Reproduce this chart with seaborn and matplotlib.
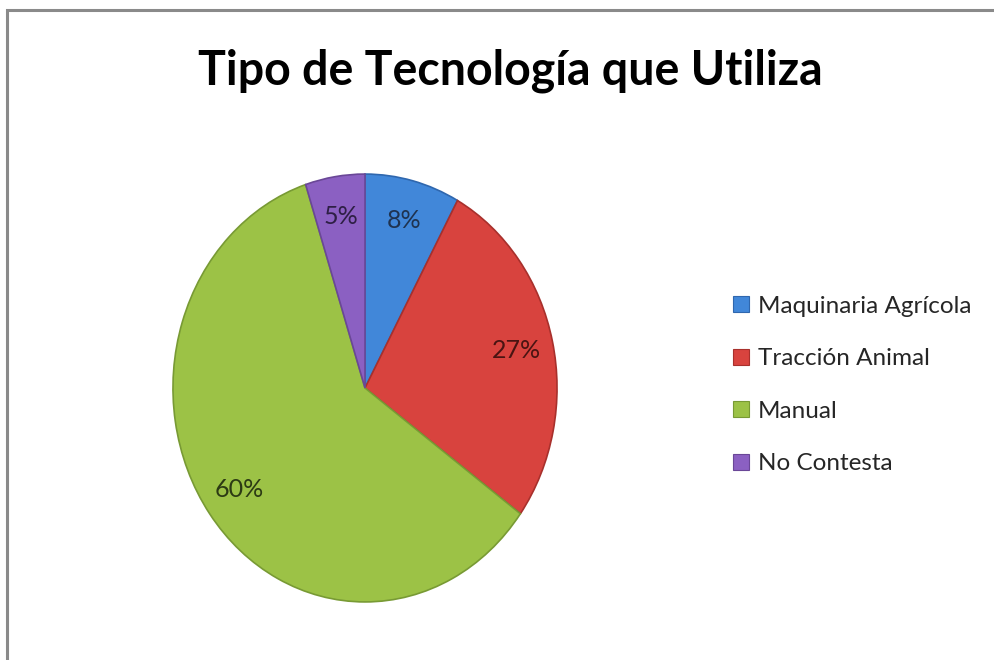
import matplotlib
matplotlib.use("Agg")
import matplotlib.pyplot as plt
import seaborn as sns
from matplotlib.patches import Rectangle

categories = ["Maquinaria Agrícola", "Tracción Animal", "Manual", "No Contesta"]
values = [8, 27, 60, 5]
title = "Tipo de Tecnología que Utiliza"

sns.set_theme(style="white")
plt.rcParams['font.family'] = ['Lato', 'DejaVu Sans']

colors = sns.color_palette(["#4187D9", "#D8433E", "#9CC246", "#8B60C2"])
edge_colors = ["#2F67AE", "#A8302C", "#789A34", "#6A4797"]
text_colors = ["#1F3350", "#4A1412", "#2C3A14", "#2E1F45"]

fig = plt.figure(figsize=(9.94, 6.6), dpi=100)
W, H = 994, 660
left, right, top, bottom = 172, 558, 173, 603
ax = fig.add_axes([left / W, (H - bottom) / H, (right - left) / W, (bottom - top) / H])

wedges, texts, autotexts = ax.pie(
    values, colors=colors, startangle=90, counterclock=False,
    autopct=lambda p: f"{p:.0f}%", pctdistance=0.81,
    wedgeprops=dict(linewidth=1.2),
    textprops=dict(fontsize=18),
)
for w, ec in zip(wedges, edge_colors):
    w.set_edgecolor(ec)
for t, c in zip(autotexts, text_colors):
    t.set_color(c)
ax.set_aspect('auto')
ax.set_xlim(-1.005, 1.005)
ax.set_ylim(-1.005, 1.005)

fig.text(0.513, 0.893, title, ha='center', va='center', fontsize=33.5, fontweight='bold', color='black')

leg = fig.legend(wedges, categories, loc='center left', bbox_to_anchor=(723 / W, 1 - 385 / H),
                 frameon=False, fontsize=17.5, handlelength=0.65, handleheight=0.65,
                 handletextpad=0.4, labelspacing=1.3, borderaxespad=0)
for h in leg.legend_handles:
    h.set_linewidth(0.8)

fig.patches.append(Rectangle((7 / W, -0.05), 1.1, (H - 10) / H + 0.05, transform=fig.transFigure,
                             fill=False, edgecolor='#8A8A8A', linewidth=2.2, zorder=10))

fig.savefig("out.png", dpi=100)
